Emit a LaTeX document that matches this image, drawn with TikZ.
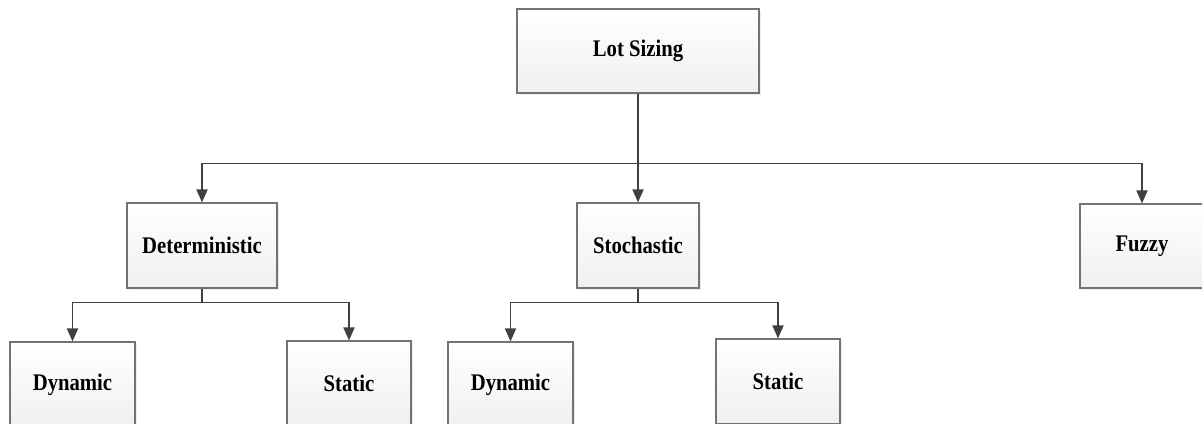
\documentclass[tikz,border=0pt]{standalone}
\usepackage{fontspec}
\setmainfont{Liberation Serif}
\usetikzlibrary{arrows.meta, shadows}

% box labels are a little taller than the plain font
\newcommand{\boxtext}[1]{\scalebox{1}[1.15]{#1}}

\begin{document}
\begin{tikzpicture}[x=1pt, y=-1pt,
  box/.style={rectangle, minimum height=85pt, text centered, align=center, draw=black!55, line width=1.1pt, top color=white, bottom color=black!6, drop shadow={shadow xshift=2pt, shadow yshift=-2pt, opacity=0.15}, font=\fontsize{20.7}{24}\selectfont\bfseries},
  arrow/.style={draw=black!75, line width=1.8pt, -{Triangle[length=13pt, width=11pt]}}]

  \useasboundingbox (0,0) rectangle (1202,423);

  % Nodes
  \node (lot) [box, minimum width=242pt, minimum height=84pt] at (638,51) {\boxtext{Lot Sizing}};
  \node (det) [box, minimum width=150pt] at (202,245.5) {\boxtext{Deterministic}};
  \node (sto) [box, minimum width=122pt] at (638,245.5) {\boxtext{Stochastic}};
  \node (fuz) [box, minimum width=124pt, minimum height=84pt] at (1142,246) {\boxtext{Fuzzy}};

  \node (detdyn) [box, minimum width=125pt] at (72.5,384.5) {\boxtext{Dynamic}};
  \node (detsta) [box, minimum width=124pt] at (349,383.5) {\boxtext{Static}};
  \node (stodyn) [box, minimum width=125pt] at (510.5,384.5) {\boxtext{Dynamic}};
  \node (stosta) [box, minimum width=124pt] at (778,381.5) {\boxtext{Static}};

  % Arrows
  \draw [arrow] (lot.south) -- ++(0,70) -| (det.north);
  \draw [arrow] (lot.south) -- (sto.north);
  \draw [arrow] (lot.south) -- ++(0,70) -| (fuz.north);

  \draw [arrow] (det.south) -- ++(0,14) -| (detdyn.north);
  \draw [arrow] (det.south) -- ++(0,14) -| (detsta.north);
  \draw [arrow] (sto.south) -- ++(0,14) -| (stodyn.north);
  \draw [arrow] (sto.south) -- ++(0,14) -| (stosta.north);
\end{tikzpicture}
\end{document}
